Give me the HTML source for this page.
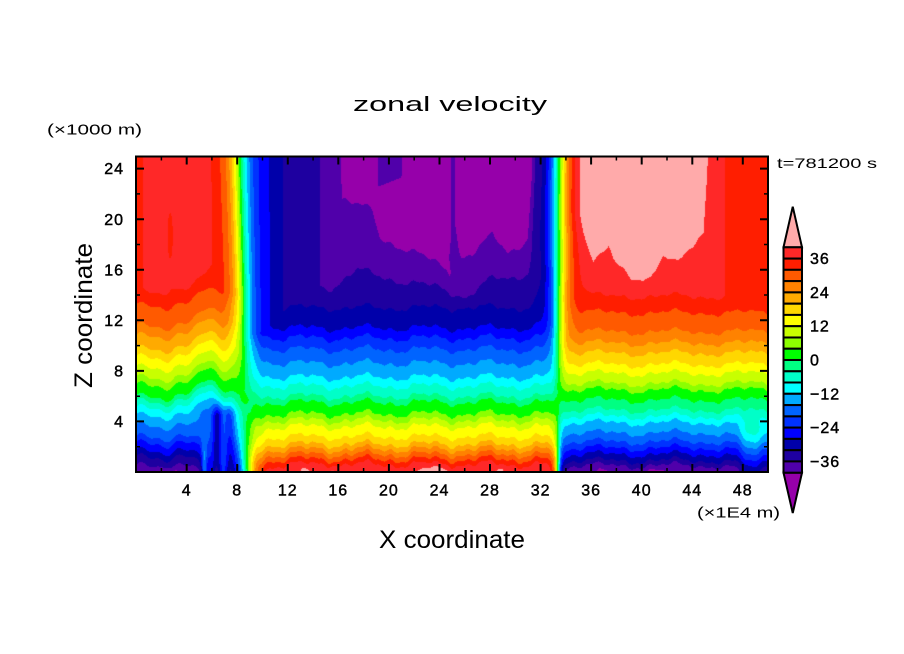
<!DOCTYPE html>
<html><head><meta charset="utf-8">
<style>
html,body{margin:0;padding:0;background:#fff;width:904px;height:654px;overflow:hidden}
#c{position:absolute;left:136px;top:156px;width:632px;height:316px}
svg{position:absolute;left:0;top:0}
text{font-family:"Liberation Sans",sans-serif;fill:#000}
.tl{font-size:16px;stroke:#000;stroke-width:0.45px;letter-spacing:1px}
</style></head><body>
<canvas id="c" width="632" height="316"></canvas>
<svg width="904" height="654" xmlns="http://www.w3.org/2000/svg">
<rect x="136" y="156.5" width="632" height="315.5" fill="none" stroke="#000" stroke-width="2"/>
<path fill="none" stroke="#000" stroke-width="2" d="M186.7 472v-8M237.2 472v-8M287.8 472v-8M338.3 472v-8M388.9 472v-8M439.5 472v-8M490 472v-8M540.6 472v-8M591.1 472v-8M641.7 472v-8M692.3 472v-8M742.8 472v-8
M186.7 156.5v8M237.2 156.5v8M287.8 156.5v8M338.3 156.5v8M388.9 156.5v8M439.5 156.5v8M490 156.5v8M540.6 156.5v8M591.1 156.5v8M641.7 156.5v8M692.3 156.5v8M742.8 156.5v8
M136 421.4h8M136 370.9h8M136 320.3h8M136 269.8h8M136 219.2h8M136 168.6h8
M768 421.4h-8M768 370.9h-8M768 320.3h-8M768 269.8h-8M768 219.2h-8M768 168.6h-8"/>
<path fill="none" stroke="#000" stroke-width="1.5" d="M161.4 472v-4M211.9 472v-4M262.5 472v-4M313.1 472v-4M363.6 472v-4M414.2 472v-4M464.7 472v-4M515.3 472v-4M565.9 472v-4M616.4 472v-4M667 472v-4M717.5 472v-4
M161.4 156.5v4M211.9 156.5v4M262.5 156.5v4M313.1 156.5v4M363.6 156.5v4M414.2 156.5v4M464.7 156.5v4M515.3 156.5v4M565.9 156.5v4M616.4 156.5v4M667 156.5v4M717.5 156.5v4
M136 446.7h4M136 396.2h4M136 345.6h4M136 295h4M136 244.5h4M136 193.9h4
M768 446.7h-4M768 396.2h-4M768 345.6h-4M768 295h-4M768 244.5h-4M768 193.9h-4"/>
<g class="tl" text-anchor="middle">
<text x="186.7" y="495.5">4</text><text x="237.2" y="495.5">8</text><text x="287.8" y="495.5">12</text><text x="338.3" y="495.5">16</text><text x="388.9" y="495.5">20</text><text x="439.5" y="495.5">24</text><text x="490" y="495.5">28</text><text x="540.6" y="495.5">32</text><text x="591.1" y="495.5">36</text><text x="641.7" y="495.5">40</text><text x="692.3" y="495.5">44</text><text x="742.8" y="495.5">48</text>
</g>
<g class="tl" text-anchor="end">
<text x="124" y="427">4</text><text x="124" y="376.5">8</text><text x="124" y="325.9">12</text><text x="124" y="275.4">16</text><text x="124" y="224.8">20</text><text x="124" y="174.2">24</text>
</g>
<!-- colorbar -->
<g stroke="#000" stroke-width="2">
<polygon points="783.5,247.3 802,247.3 792.75,206.7" fill="#ffaaaa"/>
<polygon points="783.5,472.7 802,472.7 792.75,513" fill="#9600aa"/>
<rect x="783.5" y="247.3" width="18.5" height="11.27" fill="#ff2828"/>
<rect x="783.5" y="258.6" width="18.5" height="11.27" fill="#ff1e00"/>
<rect x="783.5" y="269.8" width="18.5" height="11.27" fill="#ff5a00"/>
<rect x="783.5" y="281.1" width="18.5" height="11.27" fill="#ff8200"/>
<rect x="783.5" y="292.4" width="18.5" height="11.27" fill="#ffaa00"/>
<rect x="783.5" y="303.7" width="18.5" height="11.27" fill="#ffd700"/>
<rect x="783.5" y="314.9" width="18.5" height="11.27" fill="#ffff00"/>
<rect x="783.5" y="326.2" width="18.5" height="11.27" fill="#c8ff00"/>
<rect x="783.5" y="337.5" width="18.5" height="11.27" fill="#8cff00"/>
<rect x="783.5" y="348.7" width="18.5" height="11.27" fill="#00ff00"/>
<rect x="783.5" y="360" width="18.5" height="11.27" fill="#00ff82"/>
<rect x="783.5" y="371.3" width="18.5" height="11.27" fill="#00ffc8"/>
<rect x="783.5" y="382.5" width="18.5" height="11.27" fill="#00ffff"/>
<rect x="783.5" y="393.8" width="18.5" height="11.27" fill="#00aaff"/>
<rect x="783.5" y="405.1" width="18.5" height="11.27" fill="#0064ff"/>
<rect x="783.5" y="416.4" width="18.5" height="11.27" fill="#0032ff"/>
<rect x="783.5" y="427.6" width="18.5" height="11.27" fill="#0000ff"/>
<rect x="783.5" y="438.9" width="18.5" height="11.27" fill="#0000aa"/>
<rect x="783.5" y="450.2" width="18.5" height="11.27" fill="#1e00a0"/>
<rect x="783.5" y="461.4" width="18.5" height="11.27" fill="#5000aa"/>
</g>
<g class="tl">
<text x="810" y="264">36</text><text x="810" y="297.9">24</text><text x="810" y="331.7">12</text><text x="810" y="365.5">0</text><text x="810" y="399.3">−12</text><text x="810" y="433.1">−24</text><text x="810" y="466.9">−36</text>
</g>
<text x="353" y="111" font-size="20" textLength="194" lengthAdjust="spacingAndGlyphs">zonal velocity</text>
<text x="47" y="134.5" font-size="15" textLength="95" lengthAdjust="spacingAndGlyphs">(×1000 m)</text>
<text x="777" y="168" font-size="14" textLength="100" lengthAdjust="spacingAndGlyphs">t=781200 s</text>
<text x="697" y="517.5" font-size="15" textLength="83" lengthAdjust="spacingAndGlyphs">(×1E4 m)</text>
<text x="379" y="548" font-size="25" textLength="146" lengthAdjust="spacingAndGlyphs">X coordinate</text>
<text transform="translate(92,388) rotate(-90)" x="0" y="0" font-size="25" textLength="145" lengthAdjust="spacingAndGlyphs">Z coordinate</text>
</svg>
<script>
(function(){
var W=632,H=316;
var cv=document.getElementById('c'),ctx=cv.getContext('2d');
var im=ctx.createImageData(W,H),d=im.data;
function L(t,z){var n=t.length;if(z<=t[0][0])return t[0][1];for(var i=1;i<n;i++){if(z<=t[i][0]){var a=t[i-1],b=t[i];return a[1]+(b[1]-a[1])*(z-a[0])/(b[0]-a[0]);}}return t[n-1][1];}
function sm(a,b,x){var t=(x-a)/(b-a);t=t<0?0:t>1?1:t;return t*t*(3-2*t);}
function g(x,c,s){var q=(x-c)/s;return Math.exp(-q*q);}
var TL=[[0,-39.5],[0.4,-36],[1.1,-32],[1.6,-28],[2.2,-24],[2.7,-20],[3.6,-16],[4.4,-12],[5.0,-8],[5.5,-4],[5.9,0],[6.8,4],[7.4,8],[8.2,12],[9.0,16],[9.7,20],[10.7,24],[11.5,28],[13.1,32],[14.2,36],[17,37.5],[25,38.5]];
var TM=[[0,-39.5],[0.6,-36],[1.0,-32],[1.4,-28],[1.8,-24],[2.2,-20],[2.8,-16],[3.6,-12],[4.1,-8],[4.6,-4],[5.5,0],[6.0,4],[6.8,8],[7.5,12],[8.6,16],[9.7,20],[10.6,24],[11.4,28],[13.0,32]];
var TR=[[0,-39.5],[0.5,-36],[0.9,-32],[1.4,-28],[1.9,-24],[2.4,-20],[3.1,-16],[3.9,-12],[4.4,-8],[4.9,-4],[5.7,0],[6.5,4],[7.0,8],[7.8,12],[8.5,16],[9.4,20],[10.2,24],[11.1,28],[12.6,32],[13.9,36]];
var CAPM=[[0,20],[9.0,25],[10.4,28],[11.6,32],[14.0,35.5],[15.1,36.5],[16.3,40.5],[17,44],[50,44]];
var ZI=[[0,14.6],[15.5,14.6],[17.5,16.0],[18.8,15.6],[21.4,15.0],[24,14.6],[26.2,13.8],[28.2,15.3],[32,15.6],[50,15.6]];
var ZB=[[0,30],[16.0,30],[16.3,21.7],[18.7,20.6],[19.3,18.5],[22,17.4],[24,16.4],[24.8,15.8],[25.4,16.9],[26.6,17.2],[28.2,18.7],[29.4,17.4],[31,18],[31.3,22],[31.6,30],[50,30]];
var ZP=[[0,17.8],[35.1,17.8],[36.2,16.2],[37.4,17.8],[37.8,16.7],[39.2,15.5],[40.7,15.3],[41.7,17],[42.8,16.4],[44.4,18.4],[44.9,19],[45.2,24],[45.4,30],[50,30]];
function uL(x,z){
 var h=1.7*g(x,5.6,1.0)*sm(3,6,z)+0.25*Math.sin(x*1.9+0.5)+0.15*Math.sin(x*4.3);
 var u=L(TL,z-h);
 var cap=39-4*sm(5.7,6.2,x); if(x<0.55)cap=35;
 if(u>cap)u=cap;
 u-=2.5*g(x,2.7,0.35)*g(z,19,3);
 var wc=g(x,6.6,1.1)*(z<4.3?1:g(z,4.3,0.9));
 var uc=-26+5*Math.sin(x*5.5+1)-2*g(z,0,0.6);
 u=u*(1-wc)+uc*wc;
 u+=16*g(x,5.4,0.22)*g(z,0,2.5);
 u-=3*g(x,2.3,0.7)*g(z,0,0.35);
 return u;
}
function uM(x,z){
 var zz=z+0.22*Math.sin(x*1.3)+0.12*Math.sin(x*3.3+1)+0.08*Math.sin(x*7.1);
 var P;
 if(zz<=13.0)P=L(TM,zz);
 else{var zi=L(ZI,x),zb=L(ZB,x);
  if(zz<=zi)P=32+4*(zz-13)/(zi-13);
  else if(zz<=zb)P=36+4*(zz-zi)/(zb-zi);
  else P=Math.min(44,40+4*(zz-zb)/3);}
 var c=L(CAPM,x); if(P>c)P=c;
 P-=5*g(x,25.1,0.35)*sm(15.5,17.5,z);
 var thr=22.5+0.4*(x-19.3);
 P-=5*sm(18.8,19.3,x)*(1-sm(20.9,21.3,x))*sm(thr-0.3,thr+0.3,z);
 P-=(4*g(x,23.7,1.0)+3*g(x,13.4,0.25)+3*g(x,15.5,0.3)+3*g(x,28.8,0.3))*g(z,0,0.5);
 return -P;
}
function uR(x,z){
 var zz=z+0.2*Math.sin(x*1.1+2)+0.1*Math.sin(x*2.9)+0.08*Math.sin(x*6.3);
 var P;
 if(zz<=13.9)P=L(TR,zz);
 else{var zp=L(ZP,x); if(zz<=zp)P=36+4*(zz-13.9)/(zp-13.9); else P=Math.min(44,40+4*(zz-zp)/3);}
 if(x>46.6&&P>35)P=35;
 P+=10*g(x,48.8,1.1)*(z<3?1:g(z,3,1.2));
 P-=3*g(x,41,0.6)*g(z,0,0.35)+2*g(x,37,0.5)*g(z,0,0.3);
 return P;
}
var cols=[[80,0,170],[30,0,160],[0,0,170],[0,0,255],[0,50,255],[0,100,255],[0,170,255],[0,255,255],[0,255,200],[0,255,130],[0,255,0],[140,255,0],[200,255,0],[255,255,0],[255,215,0],[255,170,0],[255,130,0],[255,90,0],[255,30,0],[255,40,40]];
var under=[150,0,170],over=[255,170,170];
for(var py=0;py<H;py++){
 var z=(H-py-0.5)/H*25;
 var xf1=8.8-0.7*z/25,w1=0.9+0.1*z/25,xf2=33.35+0.15*z/25,w2=0.35+0.75*sm(4,20,z);
 for(var px=0;px<W;px++){
  var x=(px+0.5)/W*50;
  var a1=0.5*(1+Math.tanh((x-xf1)/w1)),a2=0.5*(1+Math.tanh((x-xf2)/w2));
  var u=0;
  if(a1<0.9999)u+=(1-a1)*uL(x,z);
  if(a1>0.0001){var m=0;if(a2<0.9999)m+=(1-a2)*uM(x,z);if(a2>0.0001)m+=a2*uR(x,z);u+=a1*m;}
  var c=u<-40?under:(u>=40?over:cols[Math.floor((u+40)/4)]);
  var k=(py*W+px)*4;d[k]=c[0];d[k+1]=c[1];d[k+2]=c[2];d[k+3]=255;
 }
}
ctx.putImageData(im,0,0);
})();
</script>
</body></html>
